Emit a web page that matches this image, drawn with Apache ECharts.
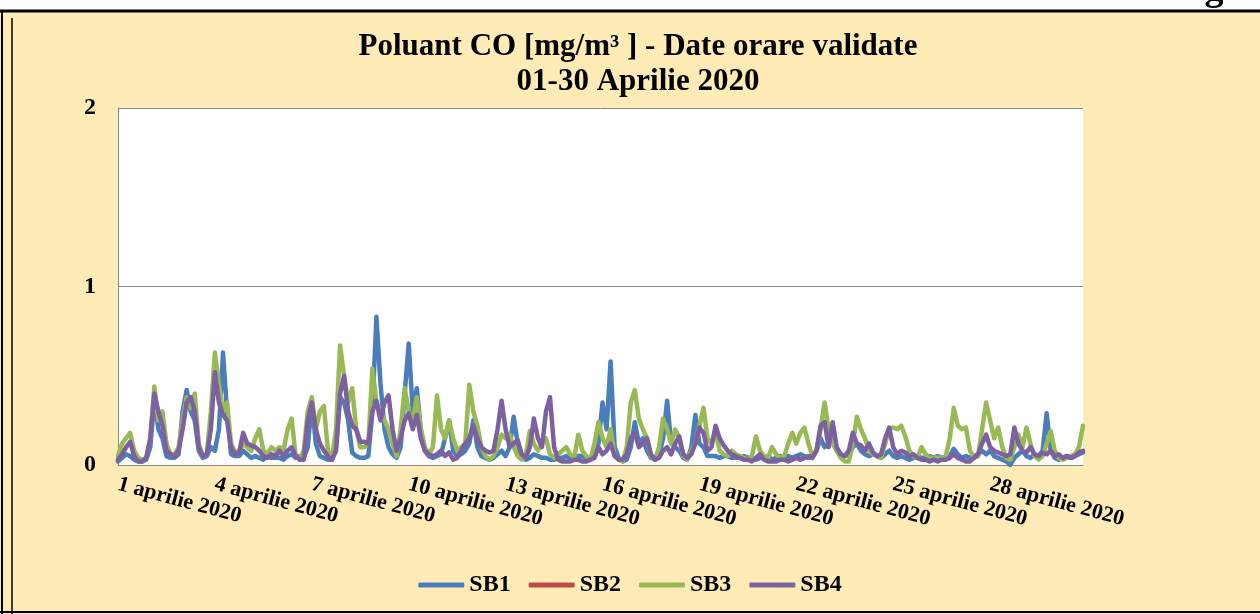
<!DOCTYPE html>
<html>
<head>
<meta charset="utf-8">
<script src="https://cdn.jsdelivr.net/npm/echarts@6/dist/echarts.min.js"></script>
<style>
html,body{margin:0;padding:0;background:#fff;}
#c{width:1260px;height:614px;}
</style>
</head>
<body>
<div id="c"></div>
<script>
// Hourly CO data sampled every 3 hours (8 points per day, 30 days)
var SERIES_NAMES = ['SB1', 'SB2', 'SB3', 'SB4'];
var TICK_LABELS = ['1 aprilie 2020','4 aprilie 2020','7 aprilie 2020','10 aprilie 2020','13 aprilie 2020',
                   '16 aprilie 2020','19 aprilie 2020','22 aprilie 2020','25 aprilie 2020','28 aprilie 2020'];
var HOURS = ['00','03','06','09','12','15','18','21'];

var SB1 = [
0.02,0.04,0.06,0.05,0.03,0.02,0.02,0.03,
0.10,0.37,0.20,0.15,0.05,0.04,0.04,0.06,
0.30,0.42,0.30,0.25,0.08,0.04,0.05,0.10,
0.08,0.20,0.63,0.30,0.06,0.05,0.05,0.08,
0.06,0.04,0.05,0.04,0.03,0.05,0.04,0.04,
0.04,0.03,0.05,0.06,0.04,0.05,0.04,0.10,
0.35,0.12,0.05,0.04,0.03,0.03,0.10,0.38,
0.35,0.25,0.07,0.05,0.04,0.04,0.05,0.30,
0.83,0.46,0.20,0.10,0.06,0.04,0.10,0.40,
0.68,0.30,0.43,0.20,0.08,0.05,0.04,0.05,
0.06,0.15,0.25,0.08,0.05,0.06,0.08,0.12,
0.25,0.10,0.05,0.04,0.03,0.04,0.06,0.08,
0.05,0.10,0.27,0.12,0.04,0.03,0.04,0.06,
0.05,0.04,0.04,0.03,0.03,0.04,0.04,0.05,
0.04,0.04,0.05,0.05,0.04,0.03,0.05,0.12,
0.35,0.20,0.58,0.10,0.04,0.02,0.03,0.10,
0.24,0.12,0.15,0.08,0.04,0.03,0.05,0.15,
0.36,0.12,0.10,0.08,0.04,0.03,0.10,0.28,
0.12,0.10,0.05,0.05,0.05,0.04,0.05,0.05,
0.04,0.04,0.04,0.05,0.04,0.04,0.03,0.04,
0.04,0.05,0.03,0.04,0.05,0.04,0.05,0.04,
0.05,0.06,0.05,0.04,0.05,0.08,0.15,0.10,
0.12,0.15,0.08,0.06,0.05,0.06,0.10,0.12,
0.08,0.06,0.05,0.06,0.05,0.04,0.06,0.08,
0.05,0.04,0.05,0.04,0.03,0.04,0.05,0.04,
0.04,0.05,0.04,0.05,0.04,0.04,0.05,0.09,
0.06,0.04,0.05,0.04,0.05,0.06,0.08,0.06,
0.08,0.05,0.04,0.03,0.02,0.00,0.04,0.06,
0.08,0.05,0.04,0.06,0.05,0.08,0.29,0.08,
0.04,0.03,0.04,0.05,0.04,0.05,0.06,0.07
];

// SB2: no values visible in the reference
var SB2 = [];

var SB3 = [
0.05,0.12,0.15,0.18,0.08,0.04,0.03,0.04,
0.15,0.44,0.25,0.30,0.12,0.06,0.06,0.10,
0.25,0.38,0.32,0.40,0.12,0.05,0.06,0.30,
0.63,0.45,0.30,0.35,0.12,0.07,0.08,0.12,
0.10,0.08,0.15,0.20,0.08,0.06,0.10,0.08,
0.10,0.08,0.20,0.26,0.05,0.03,0.08,0.30,
0.38,0.20,0.30,0.33,0.08,0.04,0.20,0.67,
0.50,0.35,0.43,0.20,0.10,0.10,0.12,0.54,
0.35,0.30,0.25,0.20,0.12,0.05,0.20,0.43,
0.30,0.25,0.38,0.20,0.10,0.06,0.10,0.39,
0.20,0.15,0.25,0.15,0.08,0.10,0.12,0.45,
0.30,0.22,0.10,0.05,0.03,0.05,0.10,0.17,
0.15,0.17,0.10,0.05,0.03,0.05,0.19,0.12,
0.08,0.12,0.15,0.06,0.04,0.06,0.08,0.10,
0.06,0.04,0.17,0.08,0.05,0.03,0.12,0.24,
0.15,0.10,0.20,0.05,0.03,0.02,0.10,0.35,
0.42,0.26,0.20,0.15,0.05,0.03,0.10,0.26,
0.20,0.12,0.20,0.15,0.05,0.03,0.08,0.12,
0.22,0.32,0.15,0.12,0.19,0.08,0.06,0.05,
0.08,0.06,0.05,0.04,0.03,0.05,0.16,0.08,
0.05,0.04,0.10,0.06,0.04,0.05,0.12,0.18,
0.12,0.18,0.21,0.12,0.05,0.08,0.20,0.35,
0.20,0.12,0.08,0.04,0.02,0.02,0.12,0.27,
0.20,0.15,0.08,0.06,0.05,0.04,0.12,0.20,
0.21,0.20,0.22,0.16,0.08,0.05,0.04,0.10,
0.06,0.04,0.04,0.04,0.04,0.05,0.15,0.32,
0.22,0.20,0.21,0.08,0.04,0.05,0.20,0.35,
0.25,0.15,0.21,0.10,0.04,0.03,0.10,0.17,
0.10,0.21,0.12,0.05,0.03,0.05,0.12,0.19,
0.08,0.04,0.03,0.04,0.05,0.06,0.10,0.22
];

var SB4 = [
0.03,0.06,0.10,0.13,0.05,0.02,0.02,0.04,
0.15,0.40,0.30,0.22,0.08,0.06,0.05,0.08,
0.20,0.35,0.38,0.30,0.10,0.05,0.06,0.20,
0.52,0.35,0.28,0.25,0.10,0.06,0.07,0.18,
0.12,0.11,0.10,0.08,0.05,0.04,0.06,0.05,
0.08,0.05,0.08,0.10,0.05,0.03,0.03,0.25,
0.35,0.20,0.12,0.08,0.05,0.03,0.08,0.40,
0.50,0.30,0.22,0.20,0.13,0.13,0.12,0.30,
0.36,0.25,0.35,0.39,0.20,0.08,0.15,0.25,
0.29,0.20,0.28,0.15,0.08,0.06,0.05,0.06,
0.08,0.05,0.07,0.03,0.04,0.08,0.12,0.15,
0.22,0.15,0.10,0.08,0.07,0.08,0.20,0.36,
0.20,0.10,0.12,0.14,0.06,0.04,0.10,0.26,
0.15,0.10,0.30,0.38,0.10,0.03,0.02,0.02,
0.02,0.03,0.03,0.02,0.02,0.03,0.04,0.10,
0.06,0.08,0.12,0.05,0.03,0.03,0.06,0.15,
0.18,0.10,0.12,0.15,0.06,0.03,0.04,0.08,
0.10,0.06,0.12,0.16,0.06,0.04,0.06,0.12,
0.21,0.18,0.08,0.10,0.22,0.15,0.11,0.08,
0.06,0.05,0.04,0.03,0.03,0.02,0.04,0.06,
0.03,0.02,0.02,0.02,0.03,0.03,0.02,0.03,
0.04,0.03,0.04,0.05,0.04,0.08,0.22,0.24,
0.10,0.24,0.10,0.06,0.05,0.08,0.18,0.12,
0.11,0.08,0.12,0.07,0.05,0.06,0.15,0.21,
0.10,0.06,0.08,0.07,0.05,0.06,0.04,0.03,
0.03,0.02,0.03,0.02,0.03,0.03,0.04,0.06,
0.04,0.03,0.02,0.02,0.04,0.06,0.12,0.17,
0.10,0.08,0.07,0.06,0.05,0.06,0.21,0.12,
0.08,0.07,0.10,0.06,0.05,0.07,0.06,0.08,
0.05,0.06,0.04,0.05,0.04,0.05,0.07,0.08
];

var COLORS = ['#4A7EBB', '#BE4B48', '#98B954', '#7D60A0'];

// category axis: one entry per 3-hour sample
var categories = [];
for (var d = 1; d <= 30; d++) {
  for (var h = 0; h < HOURS.length; h++) {
    categories.push(d + ' aprilie 2020 ' + HOURS[h] + ':00');
  }
}

var FONT = '"Liberation Serif", "Times New Roman", serif';
var chart = echarts.init(document.getElementById('c'), null, {renderer: 'canvas'});

var option = {
  backgroundColor: '#ffffff',
  animation: false,
  color: COLORS,
  graphic: [
    {type: 'rect', z: -10, shape: {x: 0, y: 10, width: 1260, height: 604}, style: {fill: '#FFEBB5'}},
    {type: 'rect', z: -5, shape: {x: 118, y: 108, width: 965, height: 357}, style: {fill: '#ffffff'}},
    {type: 'text', z: 90, style: {text: 'g', x: 1214, y: 9, textAlign: 'center', textVerticalAlign: 'bottom',
      font: 'bold 38px ' + FONT, fill: '#000'}},
    {type: 'line', z: 100, shape: {x1: 0, y1: 11, x2: 1260, y2: 11}, style: {stroke: '#000', lineWidth: 3}},
    {type: 'line', z: 100, shape: {x1: 2, y1: 11, x2: 2, y2: 614}, style: {stroke: '#000', lineWidth: 2}},
    {type: 'line', z: 100, shape: {x1: 12, y1: 18, x2: 12, y2: 614}, style: {stroke: '#000', lineWidth: 1.5}},
    {type: 'line', z: 100, shape: {x1: 0, y1: 612, x2: 1260, y2: 612}, style: {stroke: '#000', lineWidth: 2}},
    {type: 'text', z: 100, style: {text: 'Poluant CO [mg/m³ ] - Date orare validate', x: 638, y: 47,
      textAlign: 'center', textVerticalAlign: 'middle', font: 'bold 31px ' + FONT, fill: '#000'}},
    {type: 'text', z: 100, style: {text: '01-30 Aprilie 2020', x: 638, y: 82,
      textAlign: 'center', textVerticalAlign: 'middle', font: 'bold 31px ' + FONT, fill: '#000'}}
  ],
  legend: {
    data: SERIES_NAMES,
    top: 568,
    left: 'center',
    icon: 'roundRect',
    itemWidth: 46,
    itemHeight: 5,
    itemGap: 18,
    textStyle: {fontFamily: FONT, fontWeight: 'bold', fontSize: 24, color: '#000'}
  },
  grid: {left: 118, right: 177, top: 108, bottom: 149, containLabel: false},
  xAxis: {
    type: 'category',
    data: categories,
    boundaryGap: false,
    axisLine: {lineStyle: {color: '#888', width: 1}},
    axisTick: {show: false},
    axisLabel: {
      interval: function (index) { return index % 24 === 0; },
      formatter: function (value, index) { return TICK_LABELS[Math.floor(index / 24)] || ''; },
      rotate: -15,
      margin: 19,
      fontFamily: FONT, fontWeight: 'bold', fontSize: 22, color: '#000'
    },
    splitLine: {show: false}
  },
  yAxis: {
    type: 'value',
    min: 0, max: 2, interval: 1,
    axisLine: {show: true, lineStyle: {color: '#888', width: 1}},
    axisTick: {show: false},
    axisLabel: {margin: 22, fontFamily: FONT, fontWeight: 'bold', fontSize: 24, color: '#000'},
    splitLine: {show: true, lineStyle: {color: '#888', width: 1}}
  },
  series: [
    {name: 'SB1', type: 'line', data: SB1},
    {name: 'SB2', type: 'line', data: SB2},
    {name: 'SB3', type: 'line', data: SB3},
    {name: 'SB4', type: 'line', data: SB4}
  ].map(function (s, i) {
    s.showSymbol = false;
    s.symbol = 'none';
    s.lineStyle = {width: 4.5, color: COLORS[i], cap: 'round', join: 'round'};
    s.itemStyle = {color: COLORS[i]};
    return s;
  })
};

chart.setOption(option);
</script>
</body>
</html>
